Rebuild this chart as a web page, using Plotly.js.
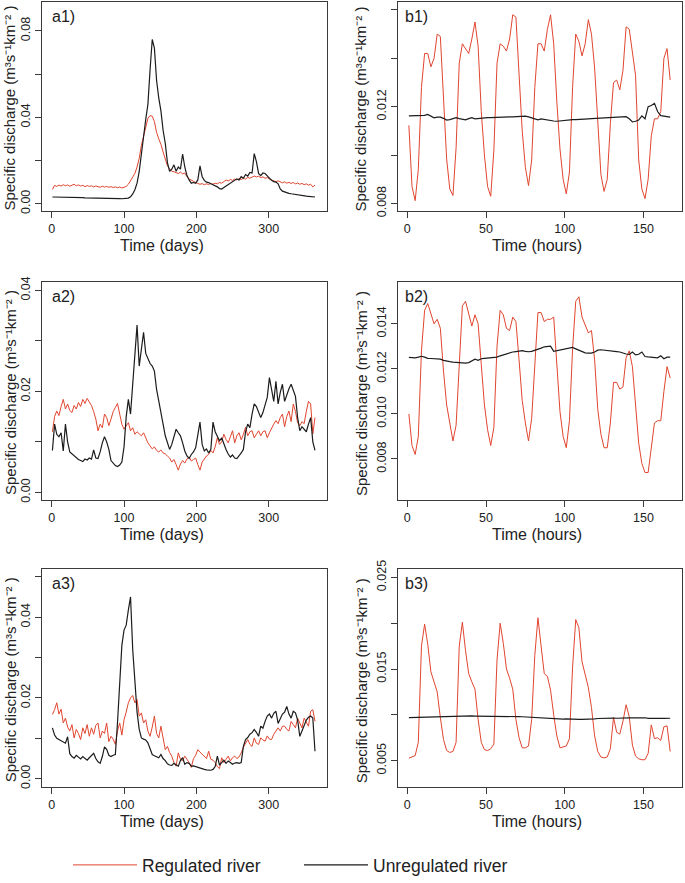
<!DOCTYPE html>
<html><head><meta charset="utf-8">
<script src="https://cdn.plot.ly/plotly-3.0.1.min.js"></script>
<style>html,body{margin:0;padding:0;background:#fff;} #chart{width:685px;height:883px;}</style>
</head><body><div id="chart"></div>
<script>
// ---------- time axes ----------
const dayGrid = [1,4,7,10,13,16,19,22,25,28,31,34,37,40,43,46,49,52,55,58,61,64,67,70,73,76,79,82,85,88,91,94,97,100,103,106,109,112,115,118,121,124,127,130,133,136,139,142,145,148,151,154,157,160,163,166,169,172,175,178,181,184,187,190,193,196,199,202,205,208,211,214,217,220,223,226,229,232,235,238,241,244,247,250,253,256,259,262,265,268,271,274,277,280,283,286,289,292,295,298,301,304,307,310,313,316,319,322,325,328,331,334,337,340,343,346,349,352,355,358,361,364];
const hourGrid = [1,3,5,7,9,11,13,15,17,19,21,23,25,27,29,31,33,35,37,39,41,43,45,47,49,51,53,55,57,59,61,63,65,67,69,71,73,75,77,79,81,83,85,87,89,91,93,95,97,99,101,103,105,107,109,111,113,115,117,119,121,123,125,127,129,131,133,135,137,139,141,143,145,147,149,151,153,155,157,159,161,163,165,167];

// ---------- a1 (daily) ----------
const a1Reg = [0.0066,0.0085,0.0080,0.0086,0.0082,0.0088,0.0083,0.0087,0.0081,0.0086,0.0090,
0.0083,0.0087,0.0082,0.0085,0.0079,0.0084,0.0080,0.0083,0.0078,0.0082,0.0079,
0.0076,0.0081,0.0077,0.0080,0.0076,0.0079,0.0075,0.0078,0.0074,0.0077,0.0073,
0.0076,0.0080,0.0090,0.0108,0.0125,0.0140,0.0170,0.0210,0.0270,0.0310,
0.0350,0.0395,0.0408,0.0405,0.0380,0.0330,0.0300,0.0275,0.0240,0.0205,
0.0175,0.0162,0.0150,0.0148,0.0145,0.0140,0.0146,0.0138,0.0142,0.0125,
0.0115,0.0108,0.0102,0.0098,0.0094,0.0090,0.0093,0.0088,0.0092,0.0089,
0.0094,0.0090,0.0095,0.0092,0.0098,0.0095,0.0102,0.0110,0.0105,0.0112,
0.0108,0.0114,0.0110,0.0116,0.0112,0.0118,0.0114,0.0122,0.0118,0.0125,
0.0128,0.0124,0.0127,0.0121,0.0124,0.0118,0.0121,0.0114,0.0110,0.0106,
0.0102,0.0106,0.0100,0.0097,0.0101,0.0095,0.0099,0.0094,0.0098,0.0092,
0.0096,0.0090,0.0094,0.0088,0.0092,0.0086,0.0090,0.0078,0.0086];
const a1Unreg = [0.0031,0.0031,0.0031,0.0030,0.0030,0.0030,0.0030,0.0029,0.0029,0.0029,0.0029,
0.0028,0.0028,0.0028,0.0028,0.0027,0.0027,0.0027,0.0027,0.0026,0.0026,0.0026,
0.0026,0.0025,0.0025,0.0025,0.0025,0.0024,0.0024,0.0024,0.0024,0.0024,0.0023,
0.0023,0.0024,0.0026,0.0032,0.0045,0.0065,0.0095,0.015,0.022,0.031,
0.039,0.046,0.062,0.076,0.072,0.057,0.049,0.043,0.034,0.028,
0.019,0.015,0.016,0.018,0.015,0.017,0.016,0.023,0.017,0.013,
0.011,0.0095,0.0098,0.0095,0.011,0.0175,0.0125,0.0108,0.0100,0.0098,
0.0092,0.0088,0.0082,0.0078,0.0070,0.0068,0.0075,0.0082,0.0090,0.0098,
0.0103,0.0108,0.0115,0.0110,0.0125,0.0118,0.0135,0.0128,0.0145,0.0142,
0.0232,0.0195,0.0140,0.0130,0.0142,0.0140,0.0128,0.0118,0.0108,0.0102,
0.0100,0.0092,0.0068,0.0058,0.0054,0.0051,0.0048,0.0046,0.0044,0.0043,
0.0041,0.0040,0.0038,0.0036,0.0035,0.0034,0.0033,0.0032,0.0031];

// ---------- a2 (daily) ----------
const a2Reg = [0.0120,0.0150,0.0161,0.0152,0.0170,0.0184,0.0165,0.0175,0.0162,0.0158,
0.0172,0.0165,0.0178,0.0170,0.0184,0.0176,0.0186,0.0180,0.0172,0.0160,
0.0145,0.0122,0.0135,0.0128,0.0155,0.0148,0.0132,0.0145,0.0160,0.0168,
0.0176,0.0155,0.0135,0.0125,0.0132,0.0138,0.0122,0.0128,0.0115,0.0120,
0.0116,0.0112,0.0118,0.0108,0.0098,0.0092,0.0086,0.0090,0.0083,0.0080,
0.0084,0.0078,0.0076,0.0072,0.0068,0.0060,0.0065,0.0055,0.0044,0.0056,
0.0063,0.0058,0.0066,0.0070,0.0062,0.0065,0.0068,0.0055,0.0044,0.0060,
0.0066,0.0072,0.0075,0.0083,0.0078,0.0090,0.0108,0.0095,0.0100,0.0115,
0.0105,0.0098,0.0110,0.0122,0.0098,0.0112,0.0118,0.0104,0.0115,0.0129,
0.0112,0.0120,0.0122,0.0108,0.0115,0.0122,0.0112,0.0120,0.0122,0.0108,
0.0118,0.0128,0.0135,0.0142,0.0136,0.0148,0.0155,0.0130,0.0150,0.0161,
0.0140,0.0175,0.0160,0.0138,0.0132,0.0140,0.0136,0.0160,0.0180,0.0175,
0.0116,0.0148];
const a2Unreg = [0.0083,0.0135,0.0115,0.0110,0.0118,0.0082,0.0135,0.0100,0.0080,0.0076,
0.0072,0.0068,0.0065,0.0063,0.0061,0.0066,0.0064,0.0068,0.0066,0.0084,
0.0068,0.0067,0.0080,0.0098,0.0110,0.0100,0.0085,0.0063,0.0057,0.0053,
0.0051,0.0054,0.0060,0.0090,0.0150,0.0184,0.0155,0.0215,0.0265,0.0331,
0.0250,0.0290,0.0317,0.0275,0.0266,0.0255,0.0250,0.0240,0.0204,0.0178,
0.0155,0.0135,0.0112,0.0098,0.0085,0.0095,0.0110,0.0125,0.0118,0.0112,
0.0098,0.0082,0.0072,0.0067,0.0075,0.0080,0.0088,0.0110,0.0139,0.0095,
0.0082,0.0086,0.0078,0.0085,0.0139,0.0120,0.0110,0.0102,0.0108,0.0095,
0.0085,0.0076,0.0070,0.0074,0.0068,0.0067,0.0072,0.0078,0.0085,0.0120,
0.0135,0.0128,0.0155,0.0175,0.0170,0.0160,0.0148,0.0158,0.0172,0.0188,
0.0227,0.0200,0.0180,0.0220,0.0175,0.0198,0.0214,0.0180,0.0195,0.0205,
0.0214,0.0200,0.0190,0.0148,0.0122,0.0130,0.0125,0.0120,0.0135,0.0148,
0.0100,0.0083];

// ---------- a3 (daily) ----------
const a3Reg = [0.0159,0.0171,0.0188,0.0160,0.0172,0.0138,0.0150,0.0128,0.0118,0.0134,
0.0101,0.0122,0.0112,0.0097,0.0126,0.0112,0.0134,0.0105,0.0126,0.0110,
0.0132,0.0138,0.0101,0.0118,0.0112,0.0138,0.0092,0.0105,0.0098,0.0085,
0.0118,0.0138,0.0108,0.0146,0.0165,0.0188,0.0200,0.0206,0.0188,0.0196,
0.0155,0.0163,0.0138,0.0146,0.0118,0.0105,0.0128,0.0155,0.0112,0.0101,
0.0130,0.0095,0.0072,0.0080,0.0065,0.0056,0.0040,0.0031,0.0064,0.0048,
0.0045,0.0056,0.0048,0.0040,0.0028,0.0050,0.0058,0.0072,0.0066,0.0060,
0.0056,0.0050,0.0068,0.0048,0.0046,0.0040,0.0030,0.0025,0.0052,0.0040,
0.0048,0.0056,0.0044,0.0052,0.0056,0.0050,0.0054,0.0064,0.0078,0.0089,
0.0097,0.0085,0.0080,0.0101,0.0088,0.0085,0.0101,0.0096,0.0093,0.0106,
0.0098,0.0097,0.0110,0.0118,0.0126,0.0118,0.0130,0.0130,0.0122,0.0118,
0.0142,0.0134,0.0126,0.0150,0.0138,0.0126,0.0150,0.0138,0.0130,0.0167,
0.0171,0.0142];
const a3Unreg = [0.0126,0.0108,0.0100,0.0097,0.0093,0.0090,0.0088,0.0104,0.0062,0.0055,
0.0051,0.0058,0.0053,0.0049,0.0055,0.0050,0.0046,0.0052,0.0057,0.0063,
0.0050,0.0042,0.0038,0.0055,0.0079,0.0073,0.0058,0.0055,0.0058,0.0060,
0.0140,0.0235,0.0330,0.0368,0.0380,0.0418,0.0450,0.0320,0.0240,0.0165,
0.0122,0.0101,0.0098,0.0096,0.0089,0.0075,0.0060,0.0057,0.0054,0.0052,
0.0060,0.0050,0.0045,0.0037,0.0034,0.0033,0.0038,0.0035,0.0031,0.0045,
0.0052,0.0036,0.0040,0.0038,0.0031,0.0032,0.0030,0.0028,0.0026,0.0024,
0.0023,0.0022,0.0021,0.0021,0.0023,0.0030,0.0056,0.0034,0.0040,0.0046,
0.0038,0.0044,0.0040,0.0036,0.0039,0.0040,0.0038,0.0040,0.0080,0.0097,
0.0102,0.0110,0.0114,0.0122,0.0115,0.0105,0.0130,0.0125,0.0142,0.0155,
0.0160,0.0150,0.0162,0.0167,0.0137,0.0150,0.0160,0.0165,0.0179,0.0160,
0.0150,0.0167,0.0163,0.0145,0.0105,0.0118,0.0130,0.0145,0.0152,0.0155,
0.0150,0.0068];

// ---------- b1 (hourly) ----------
const b1Reg = [0.01123,0.0087,0.00812,0.0094,0.0128,0.0142,0.0142,0.01365,0.0140,0.0150,0.0149,0.0123,
0.00984,0.0086,0.00833,0.0103,0.0138,0.0146,0.0144,0.0142,0.0148,0.0155,0.0145,0.0118,
0.0100,0.0087,0.0083,0.0102,0.0138,0.0146,0.0145,0.0143,0.0148,0.0158,0.0157,0.0132,
0.0110,0.0095,0.00874,0.0098,0.0128,0.0146,0.0146,0.0143,0.0152,0.0158,0.0146,0.0122,
0.01025,0.0090,0.0084,0.0093,0.0128,0.0150,0.0147,0.0141,0.0146,0.0156,0.0150,0.0136,
0.0113,0.0092,0.0085,0.0090,0.0113,0.0130,0.0131,0.0127,0.0135,0.0153,0.0152,0.0143,
0.0133,0.0098,0.0086,0.0082,0.0090,0.0108,0.0115,0.0115,0.0118,0.0140,0.0144,0.0131];
const b1Unreg = [0.01162,0.01162,0.01163,0.01163,0.01163,0.01164,0.01168,0.01160,0.01154,0.01157,0.01157,0.01152,
0.01145,0.01147,0.01152,0.01155,0.01151,0.01148,0.01146,0.01151,0.01155,0.01150,0.01152,0.01153,
0.01154,0.01155,0.01155,0.01156,0.01157,0.01157,0.01157,0.01157,0.01158,0.01158,0.01159,0.01160,
0.01162,0.01161,0.01158,0.01155,0.01150,0.01146,0.01150,0.01147,0.01145,0.01143,0.01141,0.01140,
0.01142,0.01144,0.01145,0.01146,0.01147,0.01147,0.01147,0.01147,0.01148,0.01150,0.01151,0.01152,
0.01153,0.01154,0.01155,0.01155,0.01156,0.01157,0.01157,0.01158,0.01158,0.01159,0.01150,0.01137,
0.01140,0.01145,0.01162,0.01150,0.01200,0.01205,0.01214,0.01180,0.01163,0.01160,0.01158,0.01157];

// ---------- b2 (hourly) ----------
const b2Reg = [0.0100,0.0086,0.0082,0.0090,0.0128,0.0146,0.0149,0.0145,0.0140,0.0142,0.0138,0.0119,
0.0104,0.0096,0.0088,0.0095,0.0122,0.0148,0.0150,0.0144,0.0139,0.0144,0.0140,0.0122,
0.0104,0.0093,0.0086,0.0094,0.0130,0.0146,0.0144,0.0138,0.0137,0.0143,0.0141,0.0124,
0.0106,0.0096,0.0088,0.0098,0.0124,0.0145,0.0145,0.0141,0.0142,0.0142,0.0143,0.0122,
0.0101,0.0090,0.0085,0.0097,0.0129,0.0150,0.0152,0.0143,0.0139,0.0136,0.0137,0.0124,
0.0102,0.0091,0.0085,0.0085,0.0096,0.0114,0.0114,0.0111,0.0112,0.0125,0.0128,0.0121,
0.0104,0.0087,0.0078,0.0074,0.0074,0.0085,0.0096,0.0097,0.0097,0.0110,0.0121,0.0116];
const b2Unreg = [0.01251,0.01250,0.01249,0.01252,0.01256,0.01252,0.01247,0.01246,0.01246,0.01245,0.01243,0.01238,
0.01234,0.01232,0.01230,0.01229,0.01227,0.01225,0.01226,0.01228,0.01234,0.01243,0.01238,0.01245,
0.01247,0.01248,0.01249,0.01250,0.01252,0.01258,0.01263,0.01266,0.01270,0.01275,0.01277,0.01279,
0.01281,0.01278,0.01276,0.01278,0.01282,0.01287,0.01292,0.01298,0.01301,0.01301,0.01278,0.01281,
0.01286,0.01288,0.01290,0.01292,0.01295,0.01289,0.01284,0.01276,0.01271,0.01270,0.01270,0.01275,
0.01283,0.01285,0.01284,0.01282,0.01281,0.01279,0.01277,0.01275,0.01270,0.01266,0.01264,0.01275,
0.01262,0.01265,0.01275,0.01255,0.01253,0.01251,0.01250,0.01249,0.01258,0.01245,0.01252,0.01252];

// ---------- b3 (hourly) ----------
const b3Reg = [0.00527,0.00537,0.00555,0.00699,0.0175,0.0199,0.0177,0.0147,0.0136,0.0125,0.0097,0.0073,
0.0061,0.0059,0.0060,0.0070,0.0175,0.0201,0.0170,0.0145,0.0136,0.0128,0.0095,0.0070,
0.0062,0.0061,0.0063,0.0068,0.0160,0.0200,0.0178,0.0150,0.0140,0.0128,0.0095,0.0075,
0.0064,0.0064,0.0066,0.0095,0.0165,0.0206,0.0175,0.0145,0.0142,0.0127,0.0100,0.0077,
0.0064,0.0065,0.0066,0.0074,0.0152,0.0204,0.0195,0.0158,0.0145,0.0130,0.0108,0.0077,
0.0060,0.0054,0.0053,0.0054,0.0063,0.0097,0.0081,0.0079,0.0093,0.0111,0.0098,0.0067,
0.0055,0.0052,0.0051,0.0051,0.0058,0.0089,0.0074,0.0075,0.0072,0.0087,0.0088,0.0060];
const b3Unreg = [0.00970,0.00971,0.00972,0.00973,0.00974,0.00975,0.00976,0.00977,0.00978,0.00980,0.00982,0.00984,
0.00986,0.00987,0.00988,0.00988,0.00987,0.00985,0.00986,0.00988,0.00988,0.00987,0.00987,0.00988,
0.00988,0.00987,0.00986,0.00985,0.00985,0.00984,0.00984,0.00983,0.00983,0.00982,0.00981,0.00980,
0.00979,0.00977,0.00975,0.00973,0.00970,0.00968,0.00966,0.00963,0.00960,0.00957,0.00954,0.00952,
0.00951,0.00953,0.00955,0.00956,0.00955,0.00953,0.00951,0.00950,0.00950,0.00951,0.00952,0.00955,
0.00960,0.00962,0.00964,0.00966,0.00966,0.00965,0.00963,0.00962,0.00963,0.00965,0.00966,0.00967,
0.00967,0.00969,0.00975,0.00968,0.00962,0.00960,0.00961,0.00962,0.00962,0.00962,0.00963,0.00963];

// ---------- tick labels / texts ----------
const dayTicks = [0,100,200,300];
const hourTicks = [0,50,100,150];
const panelLabels = ['a1)','b1)','a2)','b2)','a3)','b3)'];
const seriesNames = ['Regulated river','Unregulated river'];
const xTitles = ['Time (days)','Time (hours)'];
const yTitle = 'Specific discharge (m\u00B3s\u207B\u00B9km\u207B\u00B2 )';
// labelled ticks and unlabelled (minor) ticks
const yTickA1 = [0,0.04,0.08],        yTextA1 = ['0.00','0.04','0.08'],    yMinorA1 = [0.02,0.06];
const yTickA2 = [0,0.02,0.04],        yTextA2 = ['0.00','0.02','0.04'],    yMinorA2 = [0.01,0.03];
const yTickA3 = [0,0.02,0.04],        yTextA3 = ['0.00','0.02','0.04'],    yMinorA3 = [0.01,0.03,0.05];
const yTickB1 = [0.008,0.012,0.016],  yTextB1 = ['0.008','0.012','0.016'], yMinorB1 = [0.010,0.014];
const yTickB2 = [0.008,0.010,0.012,0.014], yTextB2 = ['0.008','0.010','0.012','0.014'], yMinorB2 = [];
const yTickB3 = [0.005,0.015,0.025],  yTextB3 = ['0.005','0.015','0.025'], yMinorB3 = [0.010,0.020];

// ---------- layout helpers ----------
const W = 685, H = 883;
const px = v => v / W, py = v => 1 - v / H;
const RED = '#e0452f', BLACK = '#1c1c1c', AX = '#3a3a3a';
const FONT = 'Liberation Sans, Arial, Helvetica, sans-serif';

const colA = [42, 327], colB = [398, 682];
const rows = [[1.7, 212.7], [283.3, 503.3], [572.7, 791.7]];

const panels = [
  {t: dayGrid,  reg: a1Reg, unreg: a1Unreg, col: colA, row: rows[0], xr: [-13.4, 380.6], yr: [-0.0036, 0.0935], xt: dayTicks,  yt: yTickA1, ytx: yTextA1, ym: yMinorA1},
  {t: hourGrid, reg: b1Reg, unreg: b1Unreg, col: colB, row: rows[0], xr: [-5.9, 174.5],  yr: [0.00767, 0.01634], xt: hourTicks, yt: yTickB1, ytx: yTextB1, ym: yMinorB1},
  {t: dayGrid,  reg: a2Reg, unreg: a2Unreg, col: colA, row: rows[1], xr: [-13.4, 380.6], yr: [-0.0016, 0.0417], xt: dayTicks,  yt: yTickA2, ytx: yTextA2, ym: yMinorA2},
  {t: hourGrid, reg: b2Reg, unreg: b2Unreg, col: colB, row: rows[1], xr: [-5.9, 174.5],  yr: [0.00616, 0.01587], xt: hourTicks, yt: yTickB2, ytx: yTextB2, ym: yMinorB2},
  {t: dayGrid,  reg: a3Reg, unreg: a3Unreg, col: colA, row: rows[2], xr: [-13.4, 380.6], yr: [-0.0021, 0.0518], xt: dayTicks,  yt: yTickA3, ytx: yTextA3, ym: yMinorA3},
  {t: hourGrid, reg: b3Reg, unreg: b3Unreg, col: colB, row: rows[2], xr: [-5.9, 174.5],  yr: [0.0021, 0.02587], xt: hourTicks, yt: yTickB3, ytx: yTextB3, ym: yMinorB3}
];

const data = [];
const layout = {
  width: W, height: H,
  margin: {l: 0, r: 0, t: 0, b: 0},
  paper_bgcolor: '#ffffff', plot_bgcolor: '#ffffff',
  font: {family: FONT, color: '#222', size: 12.5},
  showlegend: true,
  legend: {
    orientation: 'h', x: px(68), xanchor: 'left', y: py(870), yanchor: 'middle',
    font: {family: FONT, size: 17.5, color: '#222'}, bgcolor: 'rgba(0,0,0,0)',
    itemwidth: 64, entrywidth: 152, entrywidthmode: 'pixels', traceorder: 'normal'
  },
  annotations: []
};

panels.forEach((p, i) => {
  const n = i + 1;
  const xa = n === 1 ? 'x' : 'x' + n, ya = n === 1 ? 'y' : 'y' + n;
  data.push({x: p.t, y: p.reg, xaxis: xa, yaxis: ya, type: 'scatter', mode: 'lines',
    name: seriesNames[0], legendgroup: 'reg', showlegend: i === 0,
    line: {color: RED, width: 1}, hoverinfo: 'skip'});
  data.push({x: p.t, y: p.unreg, xaxis: xa, yaxis: ya, type: 'scatter', mode: 'lines',
    name: seriesNames[1], legendgroup: 'unreg', showlegend: i === 0,
    line: {color: BLACK, width: 1.2}, hoverinfo: 'skip'});

  const common = {showgrid: false, zeroline: false, showline: true, mirror: true,
    linecolor: AX, linewidth: 1, ticks: 'outside', ticklen: 6, tickwidth: 1, tickcolor: AX,
    tickfont: {family: FONT, size: 12.5, color: '#222'}, fixedrange: true};
  layout['xaxis' + (n === 1 ? '' : n)] = Object.assign({}, common, {
    domain: [px(p.col[0]), px(p.col[1])], anchor: ya, range: p.xr,
    tickmode: 'array', tickvals: p.xt, ticktext: p.xt.map(String)
  });
  const yax = Object.assign({}, common, {
    domain: [py(p.row[1]), py(p.row[0])], anchor: xa, range: p.yr,
    tickmode: 'array', tickvals: p.yt, ticktext: p.ytx, tickangle: -90
  });
  if (p.ym.length) {
    yax.minor = {tickmode: 'array', tickvals: p.ym, ticks: 'outside', ticklen: 6,
      tickwidth: 1, tickcolor: AX, showgrid: false};
  }
  layout['yaxis' + (n === 1 ? '' : n)] = yax;

  const isA = p.col === colA;
  layout.annotations.push({xref: 'paper', yref: 'paper', x: px(isA ? 50 : 403), y: py(p.row[0] + 14.5),
    xanchor: 'left', yanchor: 'middle', showarrow: false, text: panelLabels[i],
    font: {family: FONT, size: 16, color: '#222'}});
  layout.annotations.push({xref: 'paper', yref: 'paper', x: px(isA ? 162 : 537), y: py(p.row[1] + 34.5),
    xanchor: 'center', yanchor: 'middle', showarrow: false, text: isA ? xTitles[0] : xTitles[1],
    font: {family: FONT, size: 16, color: '#222'}});
  layout.annotations.push({xref: 'paper', yref: 'paper', x: px(isA ? 10 : 361), y: py((p.row[0] + p.row[1]) / 2 + 2),
    xanchor: 'center', yanchor: 'middle', showarrow: false, textangle: -90, text: yTitle,
    font: {family: FONT, size: 15, color: '#222'}});
});

Plotly.newPlot('chart', data, layout, {displayModeBar: false, staticPlot: true});
</script>
</body></html>
